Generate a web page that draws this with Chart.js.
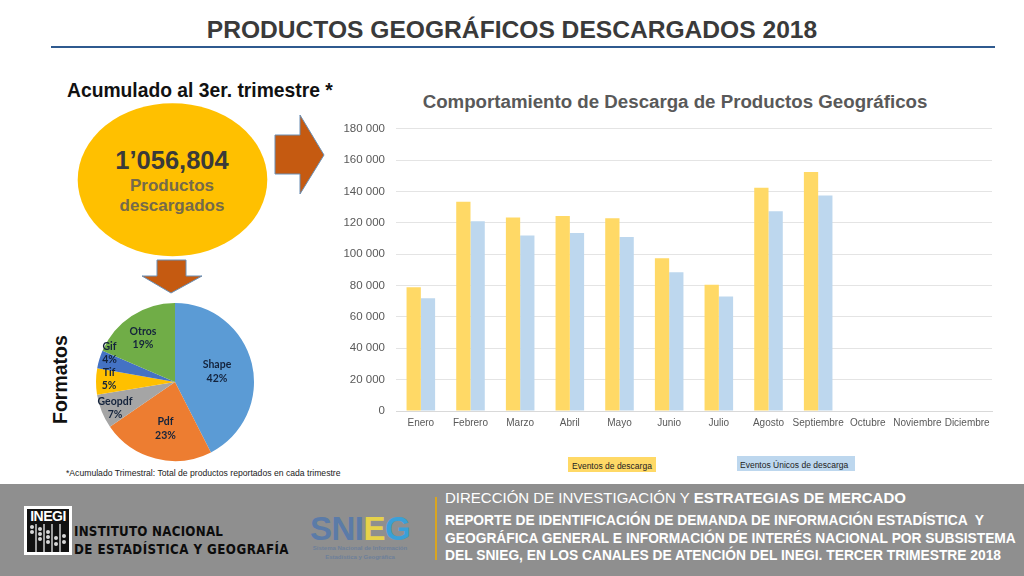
<!DOCTYPE html>
<html><head><meta charset="utf-8">
<script src="https://cdn.jsdelivr.net/npm/chart.js@4"></script>
<style>
html,body{margin:0;padding:0;background:#fff;width:1024px;height:576px;overflow:hidden;font-family:"Liberation Sans",Arial,sans-serif}
.a{position:absolute;white-space:pre}
#barWrap{position:absolute;left:340px;top:111px;width:660px;height:330px}
#pieWrap{position:absolute;left:84.5px;top:293px;width:180px;height:178px}
</style></head><body>
<div class="a" style="left:0;width:1024px;top:14px;text-align:center;font-size:24.6px;font-weight:bold;color:#3a3a3a;line-height:32px">PRODUCTOS GEOGRÁFICOS DESCARGADOS 2018</div>
<div class="a" style="left:51px;top:46px;width:944px;height:2px;background:#2f5a8f"></div>
<div class="a" style="left:67px;top:80px;font-size:19.3px;font-weight:bold;color:#111;line-height:22px">Acumulado al 3er. trimestre *</div>
<svg class="a" style="left:0;top:0" width="1024" height="576">
<ellipse cx="172.5" cy="179.7" rx="94.8" ry="76.5" fill="#FFC000"/>
<polygon points="275,135 300,135 300,115 324,155 300,194 300,174 275,174" fill="#C55A11" stroke="#6a8fb5" stroke-width="1"/>
<polygon points="157,260 186,260 186,276 202,276 171,293 142,276 157,276" fill="#C55A11" stroke="#6a8fb5" stroke-width="1"/>
</svg>
<div class="a" style="left:77px;width:190px;top:145px;text-align:center;font-size:25.5px;font-weight:bold;color:#3a3a3a;line-height:30px">1’056,804</div>
<div class="a" style="left:77px;width:190px;top:176px;text-align:center;font-size:17px;font-weight:bold;color:#756a4a;line-height:20px">Productos
descargados</div>
<div class="a" style="left:49px;top:424px;font-size:19.5px;font-weight:bold;color:#111;line-height:22px;transform-origin:0 0;transform:rotate(-90deg)">Formatos</div>
<div class="a" style="left:66px;top:467px;font-size:8.65px;color:#222;line-height:12px">*Acumulado Trimestral: Total de productos reportados en cada trimestre</div>
<div class="a" style="left:340px;width:670px;top:91px;text-align:center;font-size:18.7px;font-weight:bold;color:#595959;line-height:22px">Comportamiento de Descarga de Productos Geográficos</div>
<div id="barWrap"><canvas id="bar"></canvas></div>
<div id="pieWrap"><canvas id="pie"></canvas></div>
<div class="a" style="left:568px;top:457px;width:88px;height:15px;background:#FFD966;font-size:8.5px;line-height:18px;color:#222;text-indent:4px">Eventos de descarga</div>
<div class="a" style="left:737px;top:456px;width:118px;height:15px;background:#BDD7EE;font-size:8.5px;line-height:18px;color:#222;text-indent:3px">Eventos Únicos de descarga</div>

<div class="a" style="left:0;top:484px;width:1024px;height:92px;background:#8f8f8f"></div>
<div class="a" style="left:24px;top:506px;width:48px;height:49px;background:#fff"></div>
<div class="a" style="left:27px;top:509px;width:42px;height:43px;background:#111"></div>
<div class="a" style="left:27px;top:508px;width:42px;text-align:center;font-size:14px;font-weight:bold;color:#fff;line-height:16px;letter-spacing:-.5px">INEGI</div>
<svg class="a" style="left:27px;top:524px" width="42" height="28">
<g stroke="#fff" stroke-width="1.2"><path d="M9 0V28M17 0V28M25 0V28M33 0V28"/></g>
<g fill="#d8d8d8"><circle cx="5" cy="3" r="2"/><circle cx="5" cy="8" r="2"/><circle cx="13" cy="5" r="2"/><circle cx="13" cy="10" r="2"/><circle cx="13" cy="15" r="2"/><circle cx="21" cy="8" r="2"/><circle cx="21" cy="13" r="2"/><circle cx="21" cy="18" r="2"/><circle cx="29" cy="14" r="2"/><circle cx="29" cy="20" r="2"/><circle cx="37" cy="12" r="2"/><circle cx="37" cy="18" r="2"/></g>
</svg>
<div class="a" style="left:74px;top:522px;font-family:'DejaVu Sans';font-size:14.5px;font-weight:bold;color:#0c0c0c;line-height:18px;letter-spacing:.3px;transform-origin:0 0;transform:scaleX(.82)">INSTITUTO NACIONAL
<span style="letter-spacing:.55px">DE ESTADÍSTICA Y GEOGRAFÍA</span></div>
<div class="a" style="left:310px;top:510px;font-size:33px;font-weight:bold;line-height:38px;letter-spacing:-.5px"><span style="color:#5b7ba8">SNI</span><span style="color:#e6d24a">E</span><span style="color:#3aa0d8">G</span></div>
<div class="a" style="left:300px;width:120px;top:544px;text-align:center;font-size:6px;font-weight:bold;color:#6d7f9a;line-height:9px">Sistema Nacional de Información
Estadística y Geográfica</div>
<div class="a" style="left:435px;top:497px;width:2px;height:63px;background:#d9a520"></div>
<div class="a" style="left:445px;top:489px;font-size:15px;color:#fff;line-height:18px">DIRECCIÓN DE INVESTIGACIÓN Y <b>ESTRATEGIAS DE MERCADO</b></div>
<div class="a" style="left:445px;top:512px;font-size:13.8px;font-weight:bold;color:#fff;line-height:17.7px">REPORTE DE IDENTIFICACIÓN DE DEMANDA DE INFORMACIÓN ESTADÍSTICA  Y
GEOGRÁFICA GENERAL E INFORMACIÓN DE INTERÉS NACIONAL POR SUBSISTEMA
DEL SNIEG, EN LOS CANALES DE ATENCIÓN DEL INEGI. TERCER TRIMESTRE 2018</div>

<script>
const months = ["Enero","Febrero","Marzo","Abril","Mayo","Junio","Julio","Agosto","Septiembre","Octubre","Noviembre","Diciembre"];
const eventos = [79000,133500,123500,124500,123000,97500,80500,142500,152500,null,null,null];
const unicos = [72000,121000,112000,113500,111000,88500,73000,127500,137500,null,null,null];
const formatos = ["Shape","Pdf","Geopdf","Tif","Gif","Otros"];
const shares = [42.49,22.9,7,5.4,3.7,18.5];
const pieColors = ["#5B9BD5","#ED7D31","#A5A5A5","#FFC000","#4472C4","#70AD47"];
const pieLabelOffset = [[42,-10.5],[-9.5,46.5],[-60,26],[-66,-3],[-65.5,-29],[-32,-44]];

Chart.defaults.animation = false;
new Chart(document.getElementById('bar'),{
  type:'bar',
  data:{labels:months,datasets:[
    {label:"Eventos de descarga",data:eventos,backgroundColor:"#FFD966",barPercentage:1,categoryPercentage:.575},
    {label:"Eventos Únicos de descarga",data:unicos,backgroundColor:"#BDD7EE",barPercentage:1,categoryPercentage:.575}
  ]},
  options:{responsive:true,maintainAspectRatio:false,
    layout:{padding:{top:0,right:8,left:0,bottom:0}},
    plugins:{legend:{display:false},tooltip:{enabled:false}},
    scales:{
      x:{grid:{display:false,drawTicks:false},border:{color:"#d9d9d9"},
        afterFit(s){s.height=30},
        ticks:{color:"#595959",autoSkip:false,maxRotation:0,padding:6,font:{family:"Liberation Sans",size:10}}},
      y:{min:0,max:180000,grid:{color:"#e4e4e4",drawTicks:false},border:{display:false},
        afterFit(s){s.width=56},
        ticks:{stepSize:20000,color:"#595959",padding:11,font:{family:"Liberation Sans",size:11.5},
          callback:v=>String(v).replace(/\B(?=(\d{3})+$)/g,' ')}}
    }
  }
});
const pieLabels={id:'pieLabels',afterDatasetsDraw(c){
  const x=c.ctx,m=c.getDatasetMeta(0);
  x.save();x.textAlign='center';x.textBaseline='middle';x.fillStyle='#14233c';
  x.font='bold 10.5px Lato';
  m.data.forEach((a,i)=>{
    const px=a.x+pieLabelOffset[i][0], py=a.y+pieLabelOffset[i][1];
    x.fillText(formatos[i],px,py-6.7);
    x.fillText(Math.round(shares[i])+'%',px,py+6.7);
  });
  x.restore();
}};
new Chart(document.getElementById('pie'),{
  type:'pie',
  data:{labels:formatos,datasets:[{data:shares,backgroundColor:pieColors,borderWidth:0}]},
  options:{responsive:true,maintainAspectRatio:false,layout:{padding:10},
    plugins:{legend:{display:false},tooltip:{enabled:false}}},
  plugins:[pieLabels]
});
</script>
</body></html>
